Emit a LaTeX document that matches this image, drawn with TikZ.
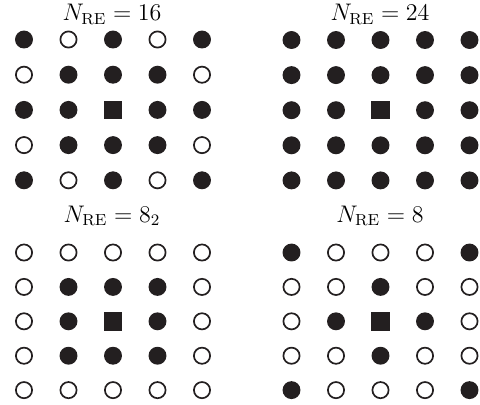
\documentclass[tikz,border=0pt]{standalone}
\usepackage{amsmath}
\usepackage{amssymb}
\usetikzlibrary{positioning}
\definecolor{ink}{HTML}{231F20}
\tikzset{re0/.style={circle,draw=ink,fill=white,line width=0.85pt,minimum size=8.1pt,inner sep=0pt},
re1/.style={circle,draw=ink,fill=ink,line width=0.85pt,minimum size=8.1pt,inner sep=0pt},
re2/.style={rectangle,fill=ink,minimum size=9.2pt,inner sep=0pt},
title/.style={anchor=base,inner sep=0pt,font=\fontsize{11.7}{14}\selectfont}}

\begin{document}
\begin{tikzpicture}[x=0.5pt,y=-0.5pt]
\useasboundingbox (0,0) rectangle (480,404);

% N_RE = 16
\node[title] (t16) at (112,20.5) {$N_{\mathrm{RE}}=16$};
\begin{scope}[shift={(24,39.5)}]
\foreach \row [count=\j] in {{1,0,1,0,1},{0,1,1,1,0},{1,1,2,1,1},{0,1,1,1,0},{1,0,1,0,1}}
  \foreach \v [count=\i] in \row
    \node[re\v] (a-\i-\j) at ({44.5*(\i-1)},{35.2*(\j-1)}) {};
\end{scope}

% N_RE = 24
\node[title] (t24) at (380,20.5) {$N_{\mathrm{RE}}=24$};
\begin{scope}[shift={(291.5,40)}]
\foreach \row [count=\j] in {{1,1,1,1,1},{1,1,1,1,1},{1,1,2,1,1},{1,1,1,1,1},{1,1,1,1,1}}
  \foreach \v [count=\i] in \row
    \node[re\v] (b-\i-\j) at ({44.5*(\i-1)},{35.1*(\j-1)}) {};
\end{scope}

% N_RE = 8_2
\node[title] (t82) at (112,222) {$N_{\mathrm{RE}}=8_2$};
\begin{scope}[shift={(24,252.5)}]
\foreach \row [count=\j] in {{0,0,0,0,0},{0,1,1,1,0},{0,1,2,1,0},{0,1,1,1,0},{0,0,0,0,0}}
  \foreach \v [count=\i] in \row
    \node[re\v] (c-\i-\j) at ({44.5*(\i-1)},{34.4*(\j-1)}) {};
\end{scope}

% N_RE = 8
\node[title] (t8) at (380,222) {$N_{\mathrm{RE}}=8$};
\begin{scope}[shift={(291.5,252.5)}]
\foreach \row [count=\j] in {{1,0,0,0,1},{0,0,1,0,0},{0,1,2,1,0},{0,0,1,0,0},{1,0,0,0,1}}
  \foreach \v [count=\i] in \row
    \node[re\v] (d-\i-\j) at ({44.5*(\i-1)},{34.4*(\j-1)}) {};
\end{scope}
\end{tikzpicture}
\end{document}
